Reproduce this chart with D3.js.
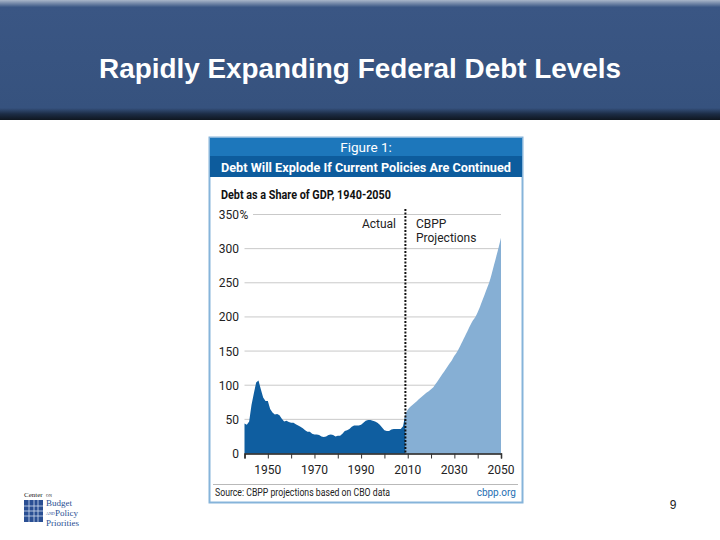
<!DOCTYPE html>
<html>
<head>
<meta charset="utf-8">
<script src="https://cdn.jsdelivr.net/npm/d3@7"></script>
<style>
  body { margin: 0; background: #fff; }
  svg { display: block; }
</style>
</head>
<body>
<div id="chart"></div>
<script>
// Debt held by the public, % of GDP
const actualYears = d3.range(1940, 2010);
const actualValues = [
  44, 42, 47, 71, 88, 104, 107, 94, 82, 77,
  77, 65, 60, 57, 58, 56, 51, 47, 48, 46,
  45, 45, 43, 41, 39, 37, 34, 32, 32, 29,
  28, 28, 27, 25, 24, 25, 27, 28, 27, 25,
  26, 26, 29, 33, 34, 36, 39, 41, 41, 41,
  42, 45, 48, 49, 49, 48, 47, 45, 42, 38,
  34, 33, 33, 35, 36, 36, 36, 36, 40, 58
];
const projYears = d3.range(2009, 2051);
const projValues = [
  58, 64, 68, 71, 74, 77, 80, 83, 86, 89,
  91, 94, 97, 102, 107, 112, 117, 122, 127, 132,
  137, 143, 148, 154, 161, 168, 175, 182, 189, 195,
  200, 207, 215, 224, 233, 242, 251, 263, 276, 289,
  302, 316
];
const yTicks = [0, 50, 100, 150, 200, 250, 300, 350];
const xTicks = d3.range(1940, 2051, 10);
const xLabels = [1950, 1970, 1990, 2010, 2030, 2050];

const W = 720, H = 540;
const svg = d3.select("#chart").append("svg")
  .attr("width", W).attr("height", H);

// header band
const defs = svg.append("defs");
const hg = defs.append("linearGradient").attr("id", "hdr")
  .attr("x1", 0).attr("y1", 0).attr("x2", 0).attr("y2", 1);
hg.append("stop").attr("offset", 0).attr("stop-color", "#a9b6c9");
hg.append("stop").attr("offset", 0.06).attr("stop-color", "#3a5684");
hg.append("stop").attr("offset", 0.9).attr("stop-color", "#36527e");
hg.append("stop").attr("offset", 0.95).attr("stop-color", "#1c2c45");
hg.append("stop").attr("offset", 1).attr("stop-color", "#0f1620");
svg.append("rect").attr("x", 0).attr("y", 0).attr("width", W).attr("height", 120)
  .attr("fill", "url(#hdr)");
svg.append("text")
  .attr("x", 99).attr("y", 78)
  .attr("textLength", 522).attr("lengthAdjust", "spacingAndGlyphs")
  .style("font-family", "Liberation Sans, Arial, sans-serif")
  .style("font-weight", "bold").style("font-size", "27px")
  .attr("fill", "#fff")
  .text("Rapidly Expanding Federal Debt Levels");

// figure box
const box = svg.append("g");
box.append("rect").attr("x", 209.5).attr("y", 137.5).attr("width", 313).attr("height", 365)
  .attr("fill", "#fff").attr("stroke", "#86b4da").attr("stroke-width", 2);
box.append("rect").attr("x", 210).attr("y", 138).attr("width", 312).attr("height", 18)
  .attr("fill", "#1d77bb");
box.append("rect").attr("x", 210).attr("y", 156).attr("width", 312).attr("height", 21)
  .attr("fill", "#0d5c9d");
box.append("text").attr("x", 366).attr("y", 152).attr("text-anchor", "middle")
  .style("font-family", "Roboto, sans-serif").style("font-size", "13.5px")
  .attr("fill", "#fff").text("Figure 1:");
box.append("text").attr("x", 221).attr("y", 172)
  .attr("textLength", 290).attr("lengthAdjust", "spacingAndGlyphs")
  .style("font-family", "Roboto, sans-serif").style("font-weight", "bold").style("font-size", "13.5px")
  .attr("fill", "#fff").text("Debt Will Explode If Current Policies Are Continued");
box.append("text").attr("x", 221).attr("y", 199)
  .attr("textLength", 170).attr("lengthAdjust", "spacingAndGlyphs")
  .style("font-family", "Roboto, sans-serif").style("font-weight", "bold").style("font-size", "12.5px")
  .attr("fill", "#111").text("Debt as a Share of GDP, 1940-2050");

// scales
const x = d3.scaleLinear().domain([1940, 2050]).range([244.5, 501]);
const y = d3.scaleLinear().domain([0, 350]).range([453.5, 214.5]);

const plot = svg.append("g");
const labFont = "Roboto, sans-serif";

// gridlines
plot.selectAll(".grid").data(yTicks.filter(d => d > 0)).enter().append("line")
  .attr("x1", d => d === 350 ? 253 : x(1940)).attr("x2", x(2050))
  .attr("y1", d => y(d)).attr("y2", d => y(d))
  .attr("stroke", "#c9c9c9").attr("stroke-width", 1);

// y labels
plot.selectAll(".ylab").data(yTicks).enter().append("text")
  .attr("x", 239).attr("y", d => y(d) + 4.5)
  .attr("text-anchor", "end")
  .style("font-family", labFont).style("font-size", "12px")
  .attr("fill", "#222")
  .text(d => d);
plot.append("text").attr("x", 239.5).attr("y", y(350) + 4.5)
  .style("font-family", labFont).style("font-size", "12px")
  .attr("fill", "#222").text("%");

// areas
const actual = actualYears.map((yr, i) => ({ yr, v: actualValues[i] }));
const proj = projYears.map((yr, i) => ({ yr, v: projValues[i] }));
const areaLin = d3.area().x(d => x(d.yr)).y0(y(0)).y1(d => y(d.v));
const areaSmooth = d3.area().x(d => x(d.yr)).y0(y(0)).y1(d => y(d.v)).curve(d3.curveMonotoneX);
plot.append("path").datum(proj).attr("d", areaSmooth).attr("fill", "#86afd4");
plot.append("path").datum(actual).attr("d", areaLin).attr("fill", "#0f5ea0");

// x axis
const xAxis = d3.axisBottom(x).tickValues(xTicks).tickSize(5).tickFormat("");
const xg = plot.append("g").attr("transform", `translate(0,${y(0)})`).call(xAxis);
xg.select(".domain").attr("stroke", "#1a1a1a").attr("stroke-width", 1.5);
xg.selectAll(".tick line").attr("stroke", "#333");
plot.selectAll(".xlab").data(xLabels).enter().append("text")
  .attr("x", d => x(d)).attr("y", 474)
  .attr("text-anchor", "middle")
  .style("font-family", labFont).style("font-size", "12px")
  .attr("fill", "#222").text(d => d);

// actual / projection divider
plot.append("line")
  .attr("x1", x(2009)).attr("x2", x(2009))
  .attr("y1", 209).attr("y2", y(0))
  .attr("stroke", "#111").attr("stroke-width", 2)
  .attr("stroke-dasharray", "2,1.5");
plot.append("text").attr("x", 396).attr("y", 228).attr("text-anchor", "end")
  .style("font-family", labFont).style("font-size", "12px")
  .attr("fill", "#222").text("Actual");
plot.append("text").attr("x", 416).attr("y", 228)
  .style("font-family", labFont).style("font-size", "12px")
  .attr("fill", "#222").text("CBPP");
plot.append("text").attr("x", 416).attr("y", 242)
  .style("font-family", labFont).style("font-size", "12px")
  .attr("fill", "#222").text("Projections");

// footer
box.append("line").attr("x1", 213).attr("x2", 518).attr("y1", 484.5).attr("y2", 484.5)
  .attr("stroke", "#b9b9b9");
box.append("text").attr("x", 215).attr("y", 496)
  .attr("textLength", 175).attr("lengthAdjust", "spacingAndGlyphs")
  .style("font-family", labFont).style("font-size", "10px")
  .attr("fill", "#222").text("Source: CBPP projections based on CBO data");
box.append("text").attr("x", 516).attr("y", 496).attr("text-anchor", "end")
  .style("font-family", labFont).style("font-size", "10px")
  .attr("fill", "#1f6fb2").text("cbpp.org");

// logo
const logo = svg.append("g");
const serif = "Liberation Serif, serif";
logo.append("text").attr("x", 24).attr("y", 497)
  .style("font-family", serif).style("font-size", "7px")
  .attr("fill", "#222").text("Center");
logo.append("text").attr("x", 46).attr("y", 497)
  .style("font-family", serif).style("font-size", "4px")
  .attr("fill", "#222").text("ON");
logo.append("rect").attr("x", 24).attr("y", 500).attr("width", 19).attr("height", 22)
  .attr("fill", "#2a4f93");
[29, 34, 38].forEach(v => logo.append("line").attr("x1", v).attr("x2", v)
  .attr("y1", 500).attr("y2", 522).attr("stroke", "#cfdcef").attr("stroke-width", 0.8));
[506, 511, 516].forEach(v => logo.append("line").attr("x1", 24).attr("x2", 43)
  .attr("y1", v).attr("y2", v).attr("stroke", "#cfdcef").attr("stroke-width", 0.8));
logo.append("text").attr("x", 46).attr("y", 506)
  .style("font-family", serif).style("font-size", "9px")
  .attr("fill", "#2a4f93").text("Budget");
logo.append("text").attr("x", 46).attr("y", 515)
  .style("font-family", serif).style("font-size", "4px")
  .attr("fill", "#2a4f93").text("AND");
logo.append("text").attr("x", 55).attr("y", 516)
  .style("font-family", serif).style("font-size", "9px")
  .attr("fill", "#2a4f93").text("Policy");
logo.append("text").attr("x", 46).attr("y", 526)
  .style("font-family", serif).style("font-size", "9px")
  .attr("fill", "#2a4f93").text("Priorities");

// page number
svg.append("text").attr("x", 673).attr("y", 509).attr("text-anchor", "middle")
  .style("font-family", "Liberation Sans, Arial, sans-serif").style("font-size", "12px")
  .attr("fill", "#222").text("9");
</script>
</body>
</html>
